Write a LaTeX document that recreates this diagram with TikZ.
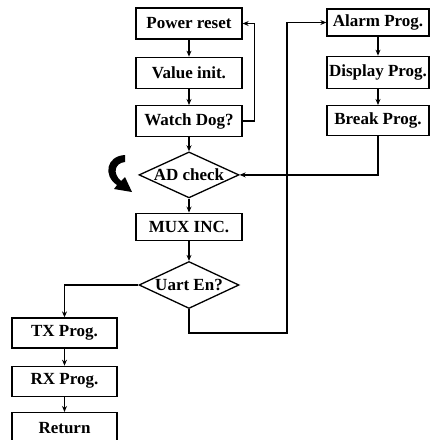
\documentclass[tikz,border=0pt]{standalone}
\usepackage{fontspec}
\setmainfont{Liberation Serif}
\usetikzlibrary{arrows.meta, positioning, shapes.geometric}

\begin{document}
\begin{tikzpicture}[x=1pt, y=1pt, line width=1.3pt,
    stepbox/.style={draw, line width=1.3pt, minimum width=106pt,
      minimum height=31pt, inner sep=1pt,
      font=\fontsize{17}{19}\selectfont\bfseries},
    check/.style={draw, diamond, line width=1.3pt, aspect=2.2,
      inner xsep=-10pt, inner ysep=-1pt, minimum width=100pt,
      minimum height=46pt, font=\fontsize{17}{19}\selectfont\bfseries},
    flow/.style={-{Stealth[length=6pt, width=5pt]}, line width=1.3pt}]
  \useasboundingbox (0,0) rectangle (430,-440);

  % main column
  \node[stepbox] (power) at (189,-23.5) {Power reset};
  \node[stepbox, below=17pt of power] (value) {Value init.};
  \node[stepbox, below=16pt of value] (watch) {Watch Dog?};
  \node[check, below=14pt of watch] (adcheck) {AD check};
  \node[stepbox, below=14pt of adcheck, minimum height=27pt] (mux) {MUX INC.};
  \node[check, below=20pt of mux, minimum height=47pt] (uart) {Uart En?};

  % uart branch
  \node[stepbox, minimum width=105pt, minimum height=30pt] (tx) at (64.5,-333) {TX Prog.};
  \node[stepbox, minimum width=105pt, minimum height=30pt, below=17pt of tx] (rx) {RX Prog.};
  \node[stepbox, minimum width=105pt, minimum height=30pt, below=15pt of rx] (ret) {Return};

  % right column
  \node[stepbox, minimum width=102pt, minimum height=27pt] (alarm) at (378,-22.5) {Alarm Prog.};
  \node[stepbox, minimum width=102pt, minimum height=32pt, below=19pt of alarm] (display) {Display Prog.};
  \node[stepbox, minimum width=102pt, minimum height=30pt, below=16pt of display] (break) {Break Prog.};

  \coordinate (busturn) at (287,-333);

  \draw[flow] (power) -- (value);
  \draw[flow] (value) -- (watch);
  \draw[flow] (watch) -- (adcheck);
  \draw[flow] (adcheck) -- (mux);
  \draw[flow] (mux) -- (uart);
  \draw[flow] (watch.east) -- ++(12,0) |- (power.east);
  \draw[flow] (uart.west) -| (tx.north);
  \draw[flow] (tx) -- (rx);
  \draw[flow] (rx) -- (ret);
  \draw[flow] (uart.south) |- (busturn) -- (busturn |- alarm.west) -- (alarm.west);
  \draw[flow] (alarm) -- (display);
  \draw[flow] (display) -- (break);
  \draw[flow] (break.south) |- (adcheck.east);

  % loop sign
  \fill (125,-155) .. controls (106,-156) and (103,-176) .. (117,-185)
    -- (114,-189) -- (132,-192) -- (125,-177) -- (121,-181)
    .. controls (112,-173) and (115,-163) .. (125,-162) -- cycle;
\end{tikzpicture}
\end{document}
